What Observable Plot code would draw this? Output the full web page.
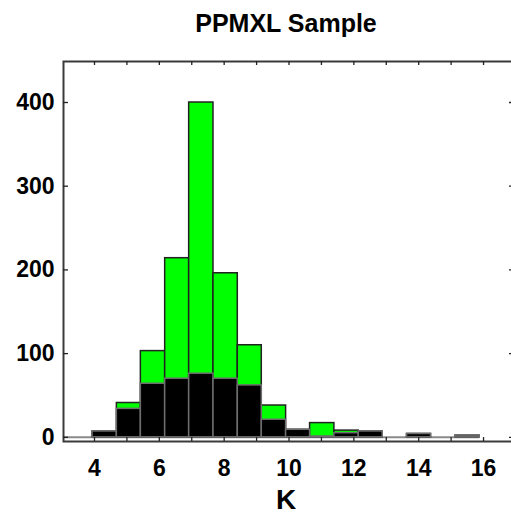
<!DOCTYPE html>
<html><head><meta charset="utf-8">
<script src="https://cdn.jsdelivr.net/npm/d3@7"></script>
<script src="https://cdn.jsdelivr.net/npm/@observablehq/plot@0.6"></script>
<style>html,body{margin:0;padding:0;background:#fff;overflow:hidden;width:511px;height:516px}</style>
</head><body><div id="chart"></div>
<script>
// Bin edges (K magnitude) and counts per bin
const binEdges = [3.94, 4.69, 5.43, 6.18, 6.92, 7.67, 8.42, 9.16, 9.91, 10.65, 11.40, 12.15, 12.89, 13.64, 14.38, 15.13, 15.88];
const totalCounts  = [7, 41, 103, 214, 400, 196, 110, 38, 9, 17, 8, 7, 0, 4, 0, 2];
const subsetCounts = [7, 34, 64, 70, 76, 70, 62, 21, 9, 1, 5, 7, 0, 4, 0, 2];
const xTicks = [4, 5, 6, 7, 8, 9, 10, 11, 12, 13, 14, 15, 16];
const xTickLabels = [4, 6, 8, 10, 12, 14, 16];
const yTicks = [0, 100, 200, 300, 400];
const xDomain = [3.044, 16.955];
const yDomain = [-5, 449];
const titleText = "PPMXL Sample";
const xLabelText = "K";

const bins = totalCounts.map((t, i) => ({x1: binEdges[i], x2: binEdges[i + 1], total: t, subset: subsetCounts[i]}));

const W = 515, H = 516, mL = 63, mR = 1, mT = 61, mB = 75;
const fw = W - mL - mR, fh = H - mT - mB;
const font = "'Liberation Sans', Arial, Helvetica, sans-serif";

const chart = Plot.plot({
  width: W, height: H,
  marginLeft: mL, marginRight: mR, marginTop: mT, marginBottom: mB,
  style: {fontFamily: font, background: "#fff", color: "#000", overflow: "visible", maxWidth: "none"},
  x: {domain: xDomain, axis: null},
  y: {domain: yDomain, axis: null},
  marks: [
    Plot.ruleY([0], {x1: () => xDomain[0], x2: () => binEdges[binEdges.length - 1], stroke: "#8a8a8a", strokeWidth: 2}),
    Plot.rect(bins.filter(d => d.total > 0), {x1: "x1", x2: "x2", y1: () => 0, y2: "total", fill: "#00ff00", stroke: "#222", strokeWidth: 1.5}),
    Plot.rect(bins.filter(d => d.subset > 0), {x1: "x1", x2: "x2", y1: () => 0, y2: "subset", fill: "#000", stroke: "#6e6e6e", strokeWidth: 1.5}),
    Plot.frame({stroke: "#3a3a3a", strokeWidth: 2}),
    Plot.tickX(xTicks, {x: d => d, insetTop: fh - 4, stroke: "#222", strokeWidth: 1.3}),
    Plot.tickX(xTicks, {x: d => d, insetBottom: fh - 4, stroke: "#222", strokeWidth: 1.3}),
    Plot.tickY(yTicks, {y: d => d, insetRight: fw - 5, stroke: "#222", strokeWidth: 1.3}),
    Plot.tickY(yTicks, {y: d => d, insetLeft: fw - 5, stroke: "#222", strokeWidth: 1.3}),
    Plot.axisX(xTickLabels, {tickSize: 0, tickPadding: 18, fontSize: 23, fontWeight: "bold", label: null, fill: "#000"}),
    Plot.axisY(yTicks, {tickSize: 0, tickPadding: 9, fontSize: 23, fontWeight: "bold", label: null, fill: "#000"}),
    Plot.text([titleText], {frameAnchor: "top", dy: -30, dx: -3, lineAnchor: "bottom", fontSize: 25, fontWeight: "bold", fill: "#000"}),
    Plot.text([xLabelText], {frameAnchor: "bottom", dy: 67, dx: -3, lineAnchor: "bottom", fontSize: 28, fontWeight: "bold", fill: "#000"})
  ]
});
document.getElementById("chart").appendChild(chart);
</script>
</body></html>
